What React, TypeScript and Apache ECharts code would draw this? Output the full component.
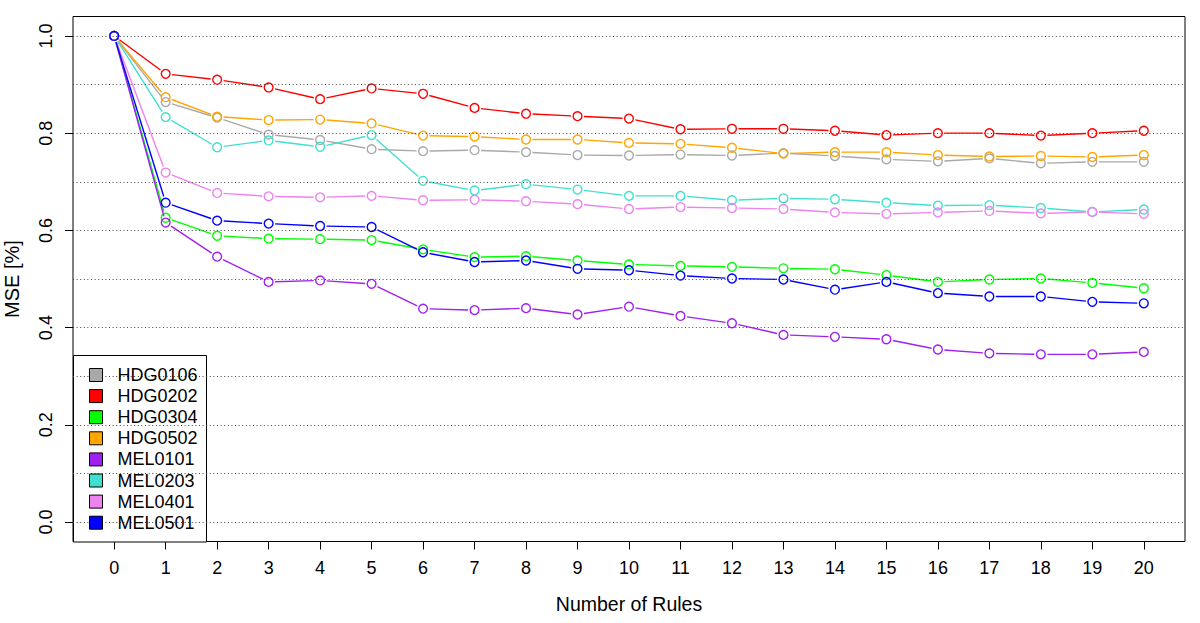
import React, { useEffect, useRef } from "react";
import * as echarts from "echarts";

const X_RULES = [0, 1, 2, 3, 4, 5, 6, 7, 8, 9, 10, 11, 12, 13, 14, 15, 16, 17, 18, 19, 20];
const Y_TICKS = [0, 0.2, 0.4, 0.6, 0.8, 1.0];
const GRID_LINES = [0, 0.1, 0.2, 0.3, 0.4, 0.5, 0.6, 0.7, 0.8, 0.9, 1.0];

const SERIES_NAMES = ["HDG0106", "HDG0202", "HDG0304", "HDG0502", "MEL0101", "MEL0203", "MEL0401", "MEL0501"];
const SERIES_COLORS = ["#a9a9a9", "#ff0000", "#00ff00", "#ffa500", "#a020f0", "#40e0d0", "#ee82ee", "#0000ff"];

const HDG0106 = [1.0, 0.864, 0.832, 0.797, 0.786, 0.767, 0.763, 0.765, 0.761, 0.755, 0.754, 0.756, 0.754, 0.759, 0.753, 0.746, 0.742, 0.748, 0.738, 0.741, 0.741];
const HDG0202 = [1.0, 0.922, 0.910, 0.894, 0.870, 0.892, 0.881, 0.852, 0.840, 0.835, 0.830, 0.808, 0.809, 0.809, 0.805, 0.796, 0.800, 0.800, 0.795, 0.800, 0.805];
const HDG0304 = [1.0, 0.626, 0.589, 0.583, 0.582, 0.580, 0.561, 0.545, 0.547, 0.538, 0.530, 0.527, 0.525, 0.522, 0.520, 0.508, 0.494, 0.499, 0.501, 0.492, 0.481];
const HDG0502 = [1.0, 0.874, 0.834, 0.827, 0.828, 0.820, 0.795, 0.793, 0.787, 0.787, 0.780, 0.778, 0.770, 0.758, 0.761, 0.761, 0.755, 0.752, 0.753, 0.751, 0.755];
const MEL0101 = [1.0, 0.616, 0.546, 0.494, 0.497, 0.490, 0.439, 0.436, 0.440, 0.427, 0.443, 0.424, 0.409, 0.385, 0.381, 0.376, 0.355, 0.347, 0.345, 0.345, 0.350];
const MEL0203 = [1.0, 0.833, 0.771, 0.785, 0.772, 0.796, 0.702, 0.682, 0.695, 0.684, 0.671, 0.671, 0.662, 0.666, 0.664, 0.657, 0.651, 0.652, 0.646, 0.638, 0.643];
const MEL0401 = [1.0, 0.719, 0.677, 0.670, 0.668, 0.671, 0.662, 0.663, 0.660, 0.654, 0.644, 0.648, 0.646, 0.644, 0.637, 0.634, 0.637, 0.640, 0.635, 0.638, 0.634];
const MEL0501 = [1.0, 0.657, 0.620, 0.614, 0.609, 0.607, 0.555, 0.535, 0.538, 0.521, 0.518, 0.507, 0.501, 0.499, 0.478, 0.494, 0.471, 0.464, 0.464, 0.453, 0.450];

const SERIES_VALUES = [HDG0106, HDG0202, HDG0304, HDG0502, MEL0101, MEL0203, MEL0401, MEL0501];

const FONT = "'Liberation Sans', Arial, Helvetica, sans-serif";

export default function App() {
  const ref = useRef<HTMLDivElement>(null);

  useEffect(() => {
    if (!ref.current) return;
    const chart = echarts.init(ref.current, null, { renderer: "svg" });

    const makeSeries = (name: string, values: number[], color: string) => ({
      name,
      type: "custom",
      clip: true,
      itemStyle: { color },
      data: X_RULES.map((x, i) => [x, values[i]]),
      renderItem: (params: any, api: any) => {
        const idx = params.dataIndex;
        const p = api.coord([api.value(0), api.value(1)]);
        const children: any[] = [
          {
            type: "circle",
            shape: { cx: p[0], cy: p[1], r: 4.4 },
            style: { fill: "none", stroke: color, lineWidth: 1.4 },
          },
        ];
        if (idx > 0) {
          const q = api.coord([X_RULES[idx - 1], values[idx - 1]]);
          const dx = p[0] - q[0];
          const dy = p[1] - q[1];
          const len = Math.sqrt(dx * dx + dy * dy);
          const gap = 6.5;
          if (len > 2 * gap) {
            const ux = dx / len;
            const uy = dy / len;
            children.push({
              type: "line",
              shape: { x1: q[0] + ux * gap, y1: q[1] + uy * gap, x2: p[0] - ux * gap, y2: p[1] - uy * gap },
              style: { stroke: color, lineWidth: 1.4 },
            });
          }
        }
        return { type: "group", children };
      },
    });

    const option: any = {
      animation: false,
      backgroundColor: "#ffffff",
      textStyle: { fontFamily: FONT },
      grid: {
        left: 73,
        right: 15,
        top: 16.5,
        bottom: 81.5,
        show: true,
        borderColor: "#000",
        borderWidth: 1,
        backgroundColor: "transparent",
        containLabel: false,
        outerBoundsMode: "none",
      },
      xAxis: {
        type: "value",
        min: -0.8,
        max: 20.8,
        name: "Number of Rules",
        nameLocation: "middle",
        nameGap: 52,
        nameTextStyle: { fontSize: 19.5, color: "#000", fontFamily: FONT },
        axisLine: { show: false, onZero: false },
        axisTick: { show: true, length: 8, lineStyle: { color: "#000", width: 1 }, customValues: X_RULES },
        axisLabel: { fontSize: 18, color: "#000", margin: 17, fontFamily: FONT, customValues: X_RULES },
        splitLine: { show: false },
      },
      yAxis: {
        type: "value",
        min: -0.04,
        max: 1.04,
        name: "MSE [%]",
        nameLocation: "middle",
        nameGap: 51,
        nameTextStyle: { fontSize: 20, color: "#000", fontFamily: FONT },
        axisLine: { show: false, onZero: false },
        axisTick: { show: true, length: 8, lineStyle: { color: "#000", width: 1 }, customValues: Y_TICKS },
        axisLabel: {
          fontSize: 18,
          color: "#000",
          rotate: 90,
          margin: 18,
          fontFamily: FONT,
          customValues: Y_TICKS,
          formatter: (v: number) => v.toFixed(1),
        },
        splitLine: { show: false },
      },
      legend: {
        orient: "vertical",
        left: 84,
        top: 361,
        icon: "rect",
        itemWidth: 13,
        itemHeight: 13,
        itemGap: 3.1,
        data: SERIES_NAMES,
        itemStyle: { borderColor: "#000", borderWidth: 1 },
        textStyle: { fontSize: 18, color: "#000", fontFamily: FONT, padding: [0, 0, 0, 10] },
        selectedMode: false,
        z: 6,
      },
      graphic: {
        elements: [
          {
            type: "rect",
            z: 5,
            shape: { x: 73.5, y: 355.5, width: 133, height: 186.5 },
            style: { fill: "#fff", stroke: "#000", lineWidth: 1 },
          },
        ],
      },
      series: [
        {
          name: "grid",
          type: "line",
          data: [],
          silent: true,
          markLine: {
            silent: true,
            symbol: ["none", "none"],
            label: { show: false },
            lineStyle: { type: [1, 2.6], color: "#444", width: 1 },
            data: GRID_LINES.map((v) => ({ yAxis: v })),
          },
        },
        ...SERIES_NAMES.map((n, i) => makeSeries(n, SERIES_VALUES[i], SERIES_COLORS[i])),
      ],
    };

    chart.setOption(option);
    return () => chart.dispose();
  }, []);

  return (
    <div
      ref={ref}
      style={{ position: "fixed", left: 0, top: 0, width: 1200, height: 623, background: "#fff" }}
    />
  );
}
